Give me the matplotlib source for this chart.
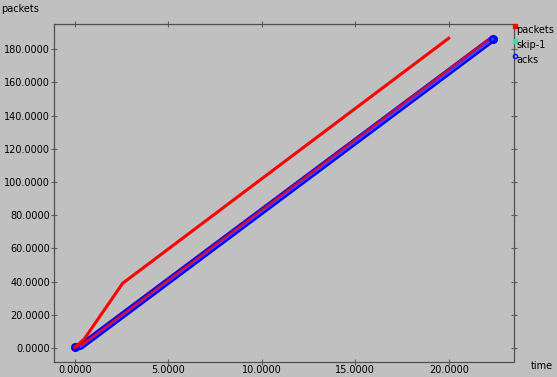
import numpy as np
import matplotlib.pyplot as plt

# values
pk_hi_t = [0.0, 0.5, 2.55, 20.0]
pk_hi_y = [0.5, 5.5, 39.0, 186.5]
pk_lo_t = [0.0, 0.5, 22.1]
pk_lo_y = [0.5, 3.0, 185.5]
ack_t = [0.0, 0.3, 22.35]
ack_y = [0.5, 1.0, 186.0]

xticks = [0, 5, 10, 15, 20]
yticks = [0, 20, 40, 60, 80, 100, 120, 140, 160, 180]

bg = '#c0c0c0'
fig = plt.figure(figsize=(5.57, 3.77), dpi=100, facecolor=bg)
ax = fig.add_axes([0.097, 0.04, 0.826, 0.896], facecolor=bg)

ax.plot(ack_t, ack_y, color='#0000ff', lw=5, solid_capstyle='round', zorder=2)
ax.plot(ack_t, ack_y, color='#4040ff', lw=2, zorder=2)
ax.plot(ack_t[::len(ack_t) - 1], ack_y[::len(ack_y) - 1], 'o', ms=5, mfc='none', mec='#0000ff', mew=1.5, zorder=3)
ax.plot(pk_lo_t, pk_lo_y, color='#ff0000', lw=1.6, zorder=4, alpha=0.85)
ax.plot(pk_hi_t, pk_hi_y, color='#ff0000', lw=2.2, zorder=4)

ax.set_xlim(-1.12, 23.5)
ax.set_ylim(-8.3, 195)
ax.set_xticks(xticks)
ax.set_yticks(yticks)
ax.set_xticklabels(['%.4f' % v for v in xticks])
ax.set_yticklabels(['%.4f' % v for v in yticks])
ax.tick_params(direction='inout', length=4, width=0.8, color='#606060', labelsize=7,
               top=True, right=True, pad=1)
ax.tick_params(axis='x', pad=0.5)
for s in ax.spines.values():
    s.set_linestyle((0, (1, 1)))
    s.set_color('#505050')
    s.set_linewidth(0.9)

fig.text(0.002, 0.975, 'packets', fontsize=7, va='center', ha='left')
fig.text(0.953, 0.03, 'time', fontsize=7, va='center', ha='left')

# legend drawn like xgraph, right of the frame
leg = [('packets', '#ff0000', 's'), ('skip-1', '#40e0a0', 's'), ('acks', '#0000ff', 'o')]
for i, (lab, col, m) in enumerate(leg):
    yy = 0.92 - i * 0.04
    fig.text(0.927, yy, lab, fontsize=7, va='center', ha='left')
    fig.add_artist(plt.Line2D([0.924], [yy + 0.012], marker=m, ms=3, color=col,
                              mfc='none' if m == 'o' else col, transform=fig.transFigure))

fig.savefig('out.png', dpi=100, facecolor=bg)
